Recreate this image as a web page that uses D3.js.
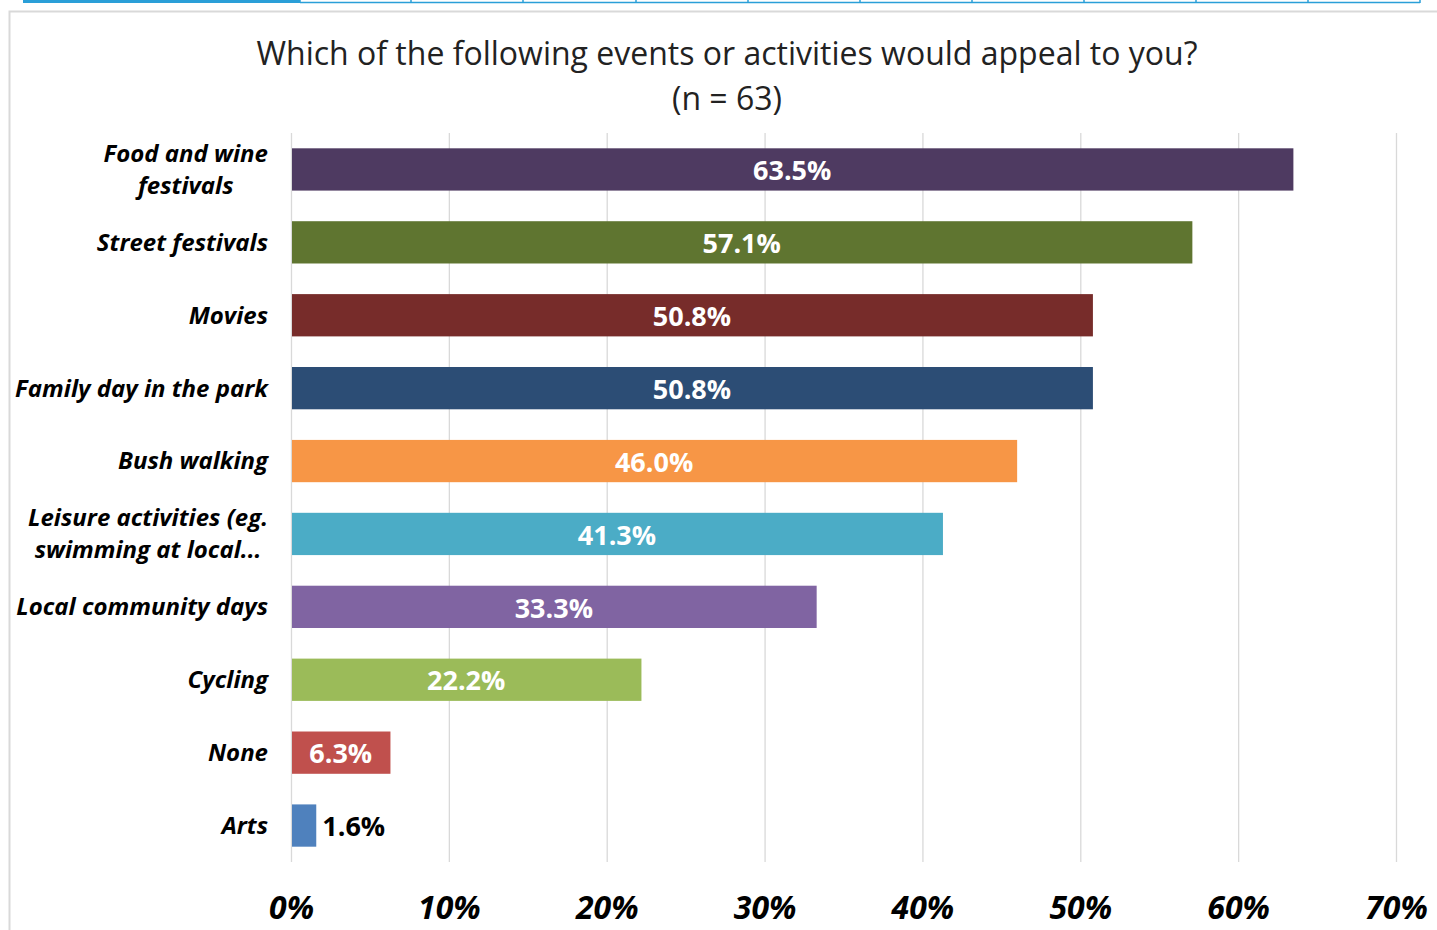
<!DOCTYPE html>
<html>
<head>
<meta charset="utf-8">
<script src="https://cdn.jsdelivr.net/npm/d3@7"></script>
<style>
  html, body { margin: 0; padding: 0; background: #fff; }
  svg { display: block; }
</style>
</head>
<body>
<svg id="chart" width="1437" height="930"></svg>
<script>
// Survey responses: share of respondents (%) per activity
const categories = [
  ["Food and wine", "festivals"],
  ["Street festivals"],
  ["Movies"],
  ["Family day in the park"],
  ["Bush walking"],
  ["Leisure activities (eg.", "swimming at local..."],
  ["Local community days"],
  ["Cycling"],
  ["None"],
  ["Arts"]
];
const values = [63.5, 57.1, 50.8, 50.8, 46.0, 41.3, 33.3, 22.2, 6.3, 1.6];
const colors = ["#4e3a61", "#5f7530", "#772c2a", "#2c4d75", "#f79646",
                "#4bacc6", "#8064a2", "#9bbb59", "#c0504d", "#4f81bd"];
const ticks = [0, 10, 20, 30, 40, 50, 60, 70];
const titleLines = ["Which of the following events or activities would appeal to you?", "(n = 63)"];

const font = "'Open Sans', 'Noto Sans', sans-serif";
const svg = d3.select("#chart");

// Page tab strip along the top
const strip = svg.append("g");
strip.append("rect").attr("x", 23).attr("y", 0).attr("width", 277).attr("height", 3).attr("fill", "#2a9fd8");
const tabEdges = [300, 411, 523, 636, 748, 860, 972, 1084, 1196, 1308, 1420];
strip.append("line").attr("x1", 300).attr("x2", 1420).attr("y1", 2.5).attr("y2", 2.5)
  .attr("stroke", "#2a9fd8").attr("stroke-width", 1.5);
strip.selectAll("line.tab").data(tabEdges).join("line").attr("class", "tab")
  .attr("x1", d => d).attr("x2", d => d).attr("y1", 0).attr("y2", 3)
  .attr("stroke", "#2a9fd8").attr("stroke-width", 1.5);

// Chart frame
svg.append("path").attr("d", "M9.5,930 V11.5 H1437")
  .attr("fill", "none").attr("stroke", "#d9d9d9").attr("stroke-width", 2);

// Title
svg.append("g").selectAll("text").data(titleLines).join("text")
  .attr("x", 727).attr("y", (d, i) => 65 + i * 45)
  .attr("text-anchor", "middle")
  .attr("font-family", font).attr("font-size", 32).attr("fill", "#222")
  .text(d => d);

// Scales
const x = d3.scaleLinear().domain([0, 70]).range([291, 1396]);
const y = d3.scaleBand().domain(d3.range(categories.length)).range([133, 862]).paddingInner(0.42).paddingOuter(0.21);

// Gridlines
svg.append("g").selectAll("line").data(ticks).join("line")
  .attr("x1", d => x(d) + 0.5).attr("x2", d => x(d) + 0.5)
  .attr("y1", 133).attr("y2", 862)
  .attr("stroke", "#d9d9d9").attr("stroke-width", 1.3);

// Bottom axis labels
const xAxis = d3.axisBottom(x).tickValues(ticks).tickSize(0).tickFormat(d => d + "%");
const ax = svg.append("g").attr("transform", "translate(0,893)").call(xAxis);
ax.select(".domain").remove();
ax.selectAll("text")
  .attr("font-family", font).attr("font-size", 32).attr("font-weight", 700)
  .attr("font-style", "italic").attr("fill", "#000");

// Bars
svg.append("g").selectAll("rect").data(values).join("rect")
  .attr("x", x(0) + 1).attr("y", (d, i) => y(i))
  .attr("width", d => x(d) - x(0) - 1).attr("height", y.bandwidth())
  .attr("fill", (d, i) => colors[i]);

// Value labels: centered inside, or just past the end for short bars
svg.append("g").selectAll("text").data(values).join("text")
  .each(function (d, i) {
    const inside = x(d) - x(0) > 80;
    d3.select(this)
      .attr("x", inside ? (x(0) + x(d)) / 2 : x(d) + 6)
      .attr("y", y(i) + y.bandwidth() / 2 + 1)
      .attr("dy", "0.36em")
      .attr("text-anchor", inside ? "middle" : "start")
      .attr("fill", inside ? "#fff" : "#000");
  })
  .attr("font-family", font).attr("font-size", 27).attr("font-weight", 700)
  .text(d => d.toFixed(1) + "%");

// Category labels (wrapped lines centered within a right-aligned block)
const labelRight = 268;
const lg = svg.append("g");
categories.forEach((lines, i) => {
  const cy = y(i) + y.bandwidth() / 2;
  const lh = 32;
  const t = lg.append("text")
    .attr("font-family", font).attr("font-size", 24).attr("font-weight", 700)
    .attr("font-style", "italic").attr("fill", "#000");
  const spans = lines.map((s, k) => t.append("tspan")
    .attr("y", cy + (k - (lines.length - 1) / 2) * lh).attr("dy", "0.35em").text(s));
  const widths = spans.map(sp => sp.node().getComputedTextLength());
  const maxW = d3.max(widths);
  const cx = labelRight - maxW / 2;
  spans.forEach(sp => sp.attr("x", cx).attr("text-anchor", "middle"));
});
</script>
</body>
</html>
